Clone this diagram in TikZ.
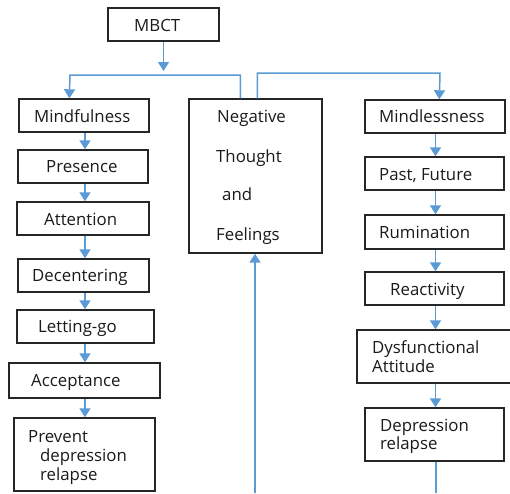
\documentclass[tikz,border=0pt]{standalone}
\usepackage{fontspec}
\setmainfont{Open Sans}
\usetikzlibrary{arrows.meta}
\definecolor{conn}{HTML}{5B9BD5}
\definecolor{boxline}{HTML}{262626}
\definecolor{txt}{HTML}{1A1A1A}
\tikzset{
  boxnode/.style={draw=boxline, line width=1.4pt, inner sep=0pt, rectangle},
  lbl/.style={anchor=base west, inner sep=0pt, text=txt, font=\fontsize{16.8}{18}\selectfont},
  link/.style={draw=conn, line width=1.5pt},
  arrowlink/.style={link, -{Triangle[width=11pt,length=9pt]}},
}
\begin{document}
\begin{tikzpicture}[x=1pt,y=-1pt]
\clip (0,0) rectangle (510,493);
\fill[white] (0,0) rectangle (510,493);
% column guides
\coordinate (colL) at (85,0);
\coordinate (colR) at (435.5,0);
% boxes
\node[boxnode, minimum width=111pt, minimum height=33pt] (mbct) at (163.5,24.5) {};
\node[boxnode, minimum width=130pt, minimum height=33pt] (mindful) at (84,115.5) {};
\node[boxnode, minimum width=130pt, minimum height=33pt] (presence) at (83,166.5) {};
\node[boxnode, minimum width=132pt, minimum height=33pt] (attention) at (83,218.5) {};
\node[boxnode, minimum width=131pt, minimum height=33pt] (decenter) at (83.5,275.5) {};
\node[boxnode, minimum width=137pt, minimum height=33pt] (letting) at (85.5,326.5) {};
\node[boxnode, minimum width=151pt, minimum height=35pt] (accept) at (84.5,380.5) {};
\node[boxnode, minimum width=141pt, minimum height=73pt] (prevent) at (84.5,454.5) {};
\node[boxnode, minimum width=133pt, minimum height=154pt] (neg) at (255.5,176) {};
\node[boxnode, minimum width=140pt, minimum height=33pt] (mindless) at (435,116.5) {};
\node[boxnode, minimum width=139pt, minimum height=33pt] (past) at (434.5,173.5) {};
\node[boxnode, minimum width=139pt, minimum height=34pt] (rum) at (434.5,232) {};
\node[boxnode, minimum width=139pt, minimum height=33pt] (react) at (434.5,288.5) {};
\node[boxnode, minimum width=160pt, minimum height=53pt] (dysf) at (437,356.5) {};
\node[boxnode, minimum width=139pt, minimum height=53pt] (depr) at (434.5,434.5) {};
% texts
\node[lbl] (tmbct) at (134,31) {MBCT};
\node[lbl] (tmindful) at (34,122) {Mindfulness};
\node[lbl] (tpresence) at (46,172) {Presence};
\node[lbl] (tattention) at (44,225) {Attention};
\node[lbl] (tdecenter) at (32,281) {Decentering};
\node[lbl] (tletting) at (38,332) {Letting-go};
\node[lbl] (taccept) at (31,386) {Acceptance};
\node[lbl] (tprev1) at (28,442) {Prevent};
\node[lbl] (tprev2) at (40,461) {depression};
\node[lbl] (tprev3) at (40,480) {relapse};
\node[lbl] (tneg1) at (217,122) {Negative};
\node[lbl] (tneg2) at (216,162) {Thought};
\node[lbl] (tneg3) at (222,200) {and};
\node[lbl] (tneg4) at (216,240) {Feelings};
\node[lbl] (tmindless) at (379,122) {Mindlessness};
\node[lbl] (tpast) at (379,180) {Past, Future};
\node[lbl] (trum) at (379,238) {Rumination};
\node[lbl] (treact) at (390,295) {Reactivity};
\node[lbl] (tdysf1) at (372,353) {Dysfunctional};
\node[lbl] (tdysf2) at (372,372) {Attitude};
\node[lbl] (tdepr1) at (380,431) {Depression};
\node[lbl] (tdepr2) at (380,449) {relapse};
% free ends
\coordinate (mbctend) at (163.5,71);
\coordinate (loopR) at (436,493);
\coordinate (loopL) at (255,493);
% connectors
\draw[arrowlink] (mbct.south) -- (mbctend);
\draw[arrowlink] ([xshift=52pt]neg.north west) |- (70,75) -- ([xshift=51pt]mindful.north west);
\draw[arrowlink] ([xshift=69pt]neg.north west) |- (440,73) -- ([xshift=75pt]mindless.north west);
\draw[arrowlink] (mindful.south -| colL) -- (presence.north -| colL);
\draw[arrowlink] (presence.south -| colL) -- (attention.north -| colL);
\draw[arrowlink] (attention.south -| colL) -- (decenter.north -| colL);
\draw[arrowlink] (decenter.south -| colL) -- (letting.north -| colL);
\draw[arrowlink] (letting.south -| colL) -- (accept.north -| colL);
\draw[arrowlink] (accept.south -| colL) -- (prevent.north -| colL);
\draw[arrowlink] (mindless.south -| colR) -- (past.north -| colR);
\draw[arrowlink] (past.south -| colR) -- (rum.north -| colR);
\draw[arrowlink] (rum.south -| colR) -- (react.north -| colR);
\draw[arrowlink] (react.south -| colR) -- (dysf.north -| colR);
\draw[arrowlink] (dysf.south -| colR) -- (depr.north -| colR);
\draw[link] (depr.south -| loopR) -- (loopR);
\draw[arrowlink] (loopL) -- (neg.south -| loopL);
\end{tikzpicture}
\end{document}
